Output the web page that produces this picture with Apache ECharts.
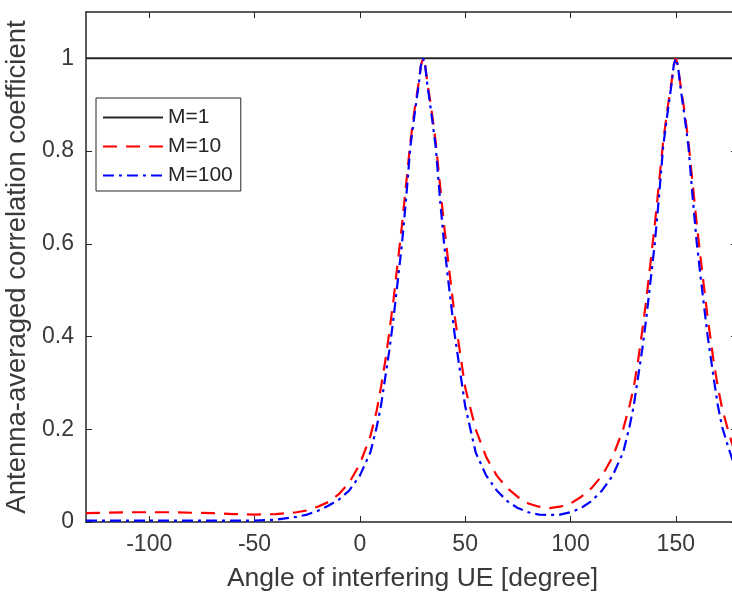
<!DOCTYPE html>
<html>
<head>
<meta charset="utf-8">
<script src="https://cdn.jsdelivr.net/npm/echarts@6/dist/echarts.min.js"></script>
<style>html,body{margin:0;padding:0;background:#fff}#c{width:732px;height:596px}</style>
</head>
<body>
<div id="c"></div>
<script>
var seriesNames = ['M=1', 'M=10', 'M=100'];
var xTicks = [-100, -50, 0, 50, 100, 150];
var yTicks = [0, 0.2, 0.4, 0.6, 0.8, 1];
var m1Angles = [-130, 180];
var m1Values = [1, 1];
var angles = [-130,-120,-110,-100,-90,-80,-70,-60,-50,-40,-30,-25,-20,-15,-10,-5,0,5,8,10,12,14,16,18,20,22,24,26,28,29,30,31,32,34,36,38,40,42,45,50,55,60,65,70,75,80,85,90,95,100,105,110,115,120,125,128,130,132,134,136,138,140,142,144,146,148,149,150,151,152,154,156,158,160,162,165,168,170,172,175,178,180];
var m10 = [0.019,0.020,0.021,0.021,0.021,0.020,0.019,0.017,0.016,0.017,0.021,0.025,0.033,0.043,0.060,0.085,0.125,0.185,0.240,0.290,0.345,0.410,0.480,0.560,0.640,0.730,0.820,0.890,0.950,0.985,1.000,0.985,0.950,0.890,0.820,0.730,0.640,0.560,0.445,0.290,0.200,0.140,0.100,0.073,0.054,0.040,0.033,0.030,0.033,0.040,0.054,0.073,0.100,0.140,0.200,0.250,0.290,0.345,0.410,0.480,0.560,0.640,0.730,0.820,0.890,0.950,0.985,1.000,0.985,0.950,0.890,0.820,0.730,0.640,0.560,0.445,0.345,0.290,0.245,0.195,0.150,0.130];
var m100 = [0.003,0.003,0.003,0.003,0.003,0.003,0.003,0.003,0.003,0.005,0.011,0.016,0.024,0.035,0.048,0.068,0.100,0.150,0.205,0.250,0.310,0.370,0.440,0.520,0.600,0.700,0.810,0.880,0.945,0.985,1.000,0.985,0.945,0.880,0.810,0.700,0.600,0.520,0.405,0.250,0.150,0.100,0.068,0.045,0.030,0.021,0.016,0.015,0.016,0.021,0.030,0.045,0.068,0.100,0.150,0.205,0.250,0.310,0.370,0.440,0.520,0.600,0.700,0.810,0.880,0.945,0.985,1.000,0.985,0.945,0.880,0.810,0.700,0.600,0.520,0.405,0.310,0.250,0.205,0.160,0.120,0.100];

function pairs(xs, ys) { return xs.map(function (x, i) { return [x, ys[i]]; }); }

var FONT = "'Liberation Sans', Arial, Helvetica, sans-serif";
var AX = '#262626';
var TXT = '#3a3a3a';

var chart = echarts.init(document.getElementById('c'), null, { renderer: 'canvas' });
chart.setOption({
  animation: false,
  backgroundColor: '#fff',
  grid: { left: 86, top: 12, width: 653, bottom: 74, containLabel: false, outerBoundsMode: 'none' },
  legend: {
    orient: 'vertical', left: 96, top: 98,
    data: seriesNames,
    itemWidth: 60, itemHeight: 14, itemGap: 8,
    padding: [9, 8, 5, 6],
    borderColor: AX, borderWidth: 1, backgroundColor: '#fff',
    itemStyle: { opacity: 0 },
    textStyle: { fontFamily: FONT, fontSize: 21, color: AX }
  },
  xAxis: [{
    type: 'value', min: -130, max: 180, position: 'bottom',
    name: 'Angle of interfering UE [degree]', nameLocation: 'middle', nameGap: 43,
    nameTextStyle: { fontFamily: FONT, fontSize: 26.5, color: TXT },
    axisLine: { show: true, onZero: false, lineStyle: { color: AX, width: 1.5 } },
    axisTick: { show: true, inside: true, length: 6, customValues: xTicks, lineStyle: { color: AX } },
    axisLabel: { show: true, customValues: xTicks, margin: 11, fontFamily: FONT, fontSize: 23, color: TXT },
    splitLine: { show: false }
  }, {
    type: 'value', min: -130, max: 180, position: 'top',
    axisLine: { show: true, onZero: false, lineStyle: { color: AX, width: 1.5 } },
    axisTick: { show: true, inside: true, length: 6, customValues: xTicks, lineStyle: { color: AX } },
    axisLabel: { show: false },
    splitLine: { show: false }
  }],
  yAxis: [{
    type: 'value', min: 0, max: 1.1, position: 'left',
    name: 'Antenna-averaged correlation coefficient', nameLocation: 'middle', nameGap: 52,
    nameTextStyle: { fontFamily: FONT, fontSize: 27.5, color: TXT },
    axisLine: { show: true, onZero: false, lineStyle: { color: AX, width: 1.5 } },
    axisTick: { show: true, inside: true, length: 6, customValues: yTicks, lineStyle: { color: AX } },
    axisLabel: { show: true, customValues: yTicks, margin: 12, fontFamily: FONT, fontSize: 23, color: TXT },
    splitLine: { show: false }
  }, {
    type: 'value', min: 0, max: 1.1, position: 'right',
    axisLine: { show: true, onZero: false, lineStyle: { color: AX, width: 1.5 } },
    axisTick: { show: true, inside: true, length: 8, customValues: yTicks, lineStyle: { color: AX } },
    axisLabel: { show: false },
    splitLine: { show: false }
  }],
  series: [{
    name: seriesNames[0], type: 'line', xAxisIndex: 0, yAxisIndex: 0,
    data: pairs(m1Angles, m1Values), symbol: 'none', showSymbol: false,
    lineStyle: { color: '#262626', width: 2, type: 'solid' },
    itemStyle: { color: '#262626' }, z: 3
  }, {
    name: seriesNames[1], type: 'line', xAxisIndex: 0, yAxisIndex: 0,
    data: pairs(angles, m10), symbol: 'none', showSymbol: false,
    lineStyle: { color: '#ff0000', width: 2.2, type: [14, 9] },
    itemStyle: { color: '#ff0000' }, z: 4
  }, {
    name: seriesNames[2], type: 'line', xAxisIndex: 0, yAxisIndex: 0,
    data: pairs(angles, m100), symbol: 'none', showSymbol: false,
    lineStyle: { color: '#0000ff', width: 2.2, type: [11, 5, 3, 5] },
    itemStyle: { color: '#0000ff' }, z: 5
  }]
});
</script>
</body>
</html>
